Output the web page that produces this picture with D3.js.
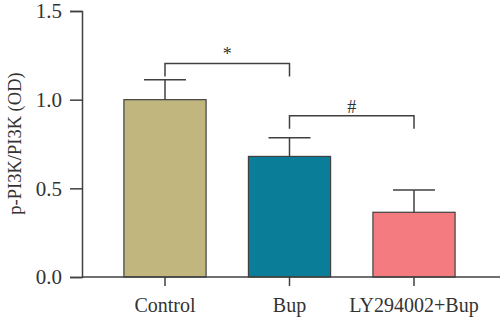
<!DOCTYPE html>
<html>
<head>
<meta charset="utf-8">
<script src="https://cdn.jsdelivr.net/npm/d3@7"></script>
<style>
  body { margin: 0; background: #fff; }
  text { font-family: "Liberation Serif", "Times New Roman", serif; }
</style>
</head>
<body>
<div id="chart"></div>
<script>
// data
const groups = ["Control", "Bup", "LY294002+Bup"];
const means = [1.0, 0.68, 0.365];
const errs = [0.113, 0.105, 0.125];
const colors = ["#c1b67d", "#0a7d98", "#f47b80"];
const yTicks = [0.0, 0.5, 1.0, 1.5];
// significance brackets: [from, to, label]
const sigs = [["Control", "Bup", "*"], ["Bup", "LY294002+Bup", "#"]];
const sigLevels = [1.204, 0.91];

const W = 500, H = 322;
const axisCol = "#404040";

const svg = d3.select("#chart").append("svg")
  .attr("width", W).attr("height", H);

// scales
const x = d3.scaleBand()
  .domain(groups)
  .range([102.75, 476.25])
  .paddingInner(0.34)
  .paddingOuter(0.17);

const y = d3.scaleLinear()
  .domain([0, 1.5])
  .range([277, 11]);

// bars
svg.append("g")
  .selectAll("rect")
  .data(groups)
  .join("rect")
    .attr("x", d => x(d))
    .attr("y", (d, i) => y(means[i]))
    .attr("width", x.bandwidth())
    .attr("height", (d, i) => y(0) - y(means[i]))
    .attr("fill", (d, i) => colors[i])
    .attr("stroke", axisCol)
    .attr("stroke-width", 1.2);

// error bars (upper only)
const eb = svg.append("g").attr("stroke", axisCol).attr("stroke-width", 1.5);
groups.forEach((g, i) => {
  const cx = x(g) + x.bandwidth() / 2;
  eb.append("line")
    .attr("x1", cx).attr("x2", cx)
    .attr("y1", y(means[i])).attr("y2", y(means[i] + errs[i]));
  eb.append("line")
    .attr("x1", cx - 21).attr("x2", cx + 21)
    .attr("y1", y(means[i] + errs[i])).attr("y2", y(means[i] + errs[i]));
});

// significance brackets
sigs.forEach((s, i) => {
  const x1 = x(s[0]) + x.bandwidth() / 2;
  const x2 = x(s[1]) + x.bandwidth() / 2;
  const yl = y(sigLevels[i]);
  svg.append("path")
    .attr("d", `M${x1},${yl + 13}V${yl}H${x2}V${yl + 13}`)
    .attr("fill", "none")
    .attr("stroke", axisCol)
    .attr("stroke-width", 1.5);
  svg.append("text")
    .attr("x", (x1 + x2) / 2)
    .attr("y", yl - 3)
    .attr("text-anchor", "middle")
    .style("font-size", "18px")
    .attr("fill", "#333")
    .text(s[2]);
});

// Y axis
const yAxis = svg.append("g")
  .attr("transform", "translate(82,0)")
  .call(d3.axisLeft(y).tickValues(yTicks).tickFormat(d3.format(".1f")).tickSize(12).tickPadding(8));
yAxis.select(".domain").attr("stroke", axisCol).attr("stroke-width", 1.5);
yAxis.selectAll(".tick line").attr("stroke", axisCol).attr("stroke-width", 1.5);
yAxis.selectAll(".tick text")
  .style("font-size", "21px")
  .attr("fill", "#333")
  .style("font-family", '"Liberation Serif", serif');

// X axis
const xAxis = svg.append("g")
  .attr("transform", `translate(0,${y(0)})`)
  .call(d3.axisBottom(x).tickSizeOuter(0).tickSize(9).tickPadding(12));
xAxis.select(".domain")
  .attr("d", `M82,0H${W}`)
  .attr("stroke", axisCol).attr("stroke-width", 1.5);
xAxis.selectAll(".tick line").attr("stroke", axisCol).attr("stroke-width", 1.5);
xAxis.selectAll(".tick text")
  .style("font-size", "20px")
  .attr("fill", "#333")
  .style("font-family", '"Liberation Serif", serif');

// Y axis title
svg.append("text")
  .attr("transform", `translate(21,${(65 + 222) / 2}) rotate(-90)`)
  .attr("text-anchor", "middle")
  .style("font-size", "18.5px")
  .attr("fill", "#333")
  .text("p-PI3K/PI3K (OD)");
</script>
</body>
</html>
